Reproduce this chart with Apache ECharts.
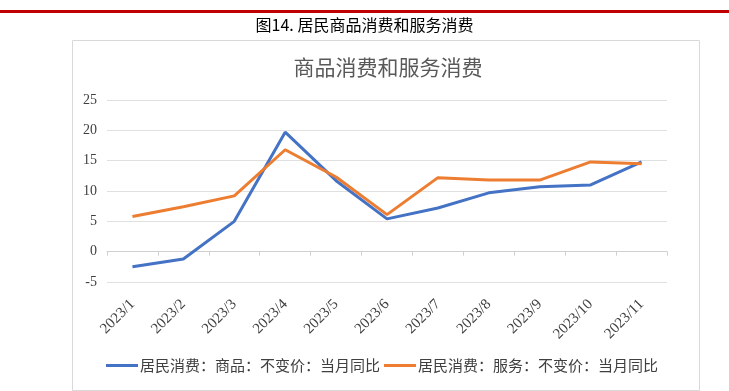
<!DOCTYPE html>
<html lang="zh" style="height: 100%">
<head>
<meta charset="utf-8">
<title>居民商品消费和服务消费</title>
</head>
<body style="height: 100%; margin: 0; background: #fff">
<div id="container" style="width: 729px; height: 391px"></div>
<script type="text/javascript" src="https://cdn.jsdelivr.net/npm/echarts@6/dist/echarts.min.js"></script>
<script type="text/javascript">
var months = ['2023/1', '2023/2', '2023/3', '2023/4', '2023/5', '2023/6',
              '2023/7', '2023/8', '2023/9', '2023/10', '2023/11'];
var goods = [-2.5, -1.2, 5.0, 19.7, 11.7, 5.4, 7.2, 9.7, 10.7, 11.0, 14.8];
var services = [5.8, 7.4, 9.2, 16.8, 12.3, 6.1, 12.2, 11.8, 11.8, 14.8, 14.5];
var goodsName = '居民消费：商品：不变价：当月同比';
var servicesName = '居民消费：服务：不变价：当月同比';

var myChart = echarts.init(document.getElementById('container'));
var serif = '"Liberation Serif", "DejaVu Serif", serif';
var cjk = '"Noto Sans CJK SC", sans-serif';

var option = {
    animation: false,
    graphic: [
        // red rule at the very top
        { type: 'rect', left: 0, top: 10, shape: { width: 729, height: 3 },
          style: { fill: '#c00000' } },
        { type: 'text', left: 'center', top: 17,
          style: { text: '图14. 居民商品消费和服务消费', fill: '#000',
                   font: '16px ' + cjk } },
        // frame round the chart
        { type: 'rect', left: 70, top: 38, shape: { width: 627, height: 350 },
          style: { fill: 'none', stroke: '#d9d9d9', lineWidth: 1 } }
    ],
    title: {
        text: '商品消费和服务消费',
        left: 383, top: 52, textAlign: 'center',
        textStyle: { color: '#595959', fontSize: 21, fontWeight: 'normal', fontFamily: cjk }
    },
    legend: {
        data: [goodsName, servicesName],
        top: 353, left: 101,
        itemWidth: 32, itemHeight: 3, itemGap: 4,
        icon: 'rect',
        textStyle: { color: '#404040', fontSize: 15, fontFamily: cjk, padding: [0, 0, 0, -3] }
    },
    grid: { left: 107, right: 62, top: 100, bottom: 109 },
    xAxis: {
        type: 'category',
        data: months,
        boundaryGap: true,
        axisLine: { onZero: true, lineStyle: { color: '#d0d0d0' } },
        axisTick: { show: true, length: 4, lineStyle: { color: '#d0d0d0' } },
        axisLabel: { rotate: 45, margin: 20, color: '#404040', fontSize: 15, fontFamily: serif }
    },
    yAxis: {
        type: 'value',
        min: -5, max: 25, interval: 5,
        axisLine: { show: false },
        axisTick: { show: false },
        splitLine: { lineStyle: { color: '#e0e0e0' } },
        axisLabel: { color: '#404040', fontSize: 14, fontFamily: serif, margin: 10 }
    },
    series: [
        { name: goodsName, type: 'line', data: goods, showSymbol: false,
          lineStyle: { width: 3, color: '#4472c4' }, itemStyle: { color: '#4472c4' } },
        { name: servicesName, type: 'line', data: services, showSymbol: false,
          lineStyle: { width: 3, color: '#ed7d31' }, itemStyle: { color: '#ed7d31' } }
    ]
};

myChart.setOption(option);
window.addEventListener('resize', myChart.resize);
</script>
</body>
</html>
